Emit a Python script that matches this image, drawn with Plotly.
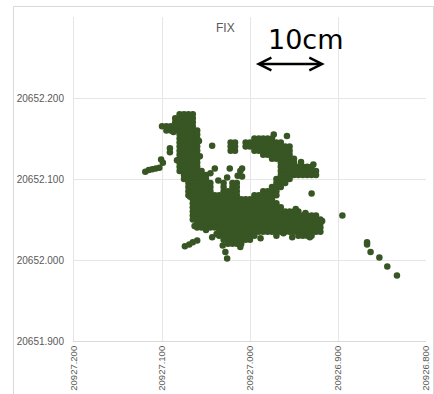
import plotly.graph_objects as go

# Easting / northing of FIX solutions (metres), stored row by row of the cloud
ROW_Y = [
    20652.180, 20652.175, 20652.170, 20652.165, 20652.160, 20652.155,
    20652.150, 20652.145, 20652.140, 20652.135, 20652.130, 20652.125,
    20652.120, 20652.115, 20652.110, 20652.105, 20652.100, 20652.095,
    20652.090, 20652.085, 20652.080, 20652.075, 20652.070, 20652.065,
    20652.060, 20652.055, 20652.050, 20652.045, 20652.040, 20652.035,
    20652.030, 20652.025, 20652.020,
]

ROW_X = [
    [20927.080, 20927.075, 20927.070, 20927.065],
    [20927.085, 20927.080, 20927.075, 20927.070, 20927.065],
    [20927.085, 20927.080, 20927.075, 20927.070, 20927.065],
    [20927.100, 20927.095, 20927.090, 20927.085, 20927.080, 20927.075, 20927.070, 20927.065],
    [20927.095, 20927.090, 20927.085, 20927.080, 20927.075, 20927.070, 20927.065, 20927.060],
    [20927.080, 20927.075, 20927.070, 20927.065, 20927.060],
    [20927.080, 20927.075, 20927.070, 20927.065, 20927.060,
     20926.995, 20926.990, 20926.985, 20926.980, 20926.975],
    [20927.080, 20927.075, 20927.070, 20927.065, 20927.060, 20927.022, 20927.017,
     20927.005, 20927.000, 20926.995, 20926.990, 20926.985, 20926.980, 20926.975,
     20926.970, 20926.965],
    [20927.080, 20927.075, 20927.070, 20927.065, 20927.060, 20927.022, 20927.017,
     20927.005, 20927.000, 20926.995, 20926.990, 20926.985, 20926.980, 20926.975,
     20926.970, 20926.965, 20926.960, 20926.955],
    [20927.080, 20927.075, 20927.070, 20927.065, 20927.060, 20927.022, 20927.017,
     20926.995, 20926.990, 20926.985, 20926.980, 20926.975, 20926.970, 20926.965,
     20926.960, 20926.955],
    [20927.080, 20927.075, 20927.070, 20927.065, 20927.060,
     20926.985, 20926.980, 20926.975, 20926.970, 20926.965, 20926.960, 20926.955],
    [20927.080, 20927.075, 20927.070, 20927.065, 20927.060,
     20926.975, 20926.970, 20926.965, 20926.960, 20926.955, 20926.950],
    [20927.080, 20927.075, 20927.070, 20927.065, 20927.060,
     20926.965, 20926.960, 20926.955, 20926.950],
    [20927.080, 20927.075, 20927.070, 20927.065, 20927.060,
     20926.965, 20926.960, 20926.955, 20926.950, 20926.945, 20926.940, 20926.935,
     20926.930],
    [20927.080, 20927.075, 20927.070, 20927.065, 20927.060, 20927.055,
     20926.965, 20926.960, 20926.955, 20926.950, 20926.945, 20926.940, 20926.935,
     20926.930, 20926.925],
    [20927.075, 20927.070, 20927.065, 20927.060, 20927.055, 20927.050,
     20926.965, 20926.960, 20926.955, 20926.950, 20926.945, 20926.940, 20926.935,
     20926.930, 20926.925],
    [20927.075, 20927.070, 20927.065, 20927.060, 20927.055, 20927.050,
     20926.970, 20926.965, 20926.960, 20926.955],
    [20927.070, 20927.065, 20927.060, 20927.055, 20927.050, 20927.045,
     20927.030, 20927.020, 20927.015, 20926.970, 20926.965, 20926.960],
    [20927.070, 20927.065, 20927.060, 20927.055, 20927.050, 20927.045,
     20927.030, 20927.020, 20927.015, 20926.975, 20926.970, 20926.965],
    [20927.070, 20927.065, 20927.060, 20927.055, 20927.050, 20927.045,
     20927.030, 20927.025, 20927.020, 20927.015,
     20926.985, 20926.980, 20926.975, 20926.970],
    [20927.070, 20927.065, 20927.060, 20927.055, 20927.050, 20927.045, 20927.040,
     20927.035, 20927.030, 20927.025, 20927.020, 20927.015,
     20926.995, 20926.990, 20926.985, 20926.980, 20926.975, 20926.970],
    [20927.065, 20927.060, 20927.055, 20927.050, 20927.045, 20927.040, 20927.035,
     20927.030, 20927.025, 20927.020, 20927.015, 20927.010, 20927.005, 20927.000,
     20926.995, 20926.990, 20926.985, 20926.980, 20926.975],
    [20927.065, 20927.060, 20927.055, 20927.050, 20927.045, 20927.040, 20927.035,
     20927.030, 20927.025, 20927.020, 20927.015, 20927.010, 20927.005, 20927.000,
     20926.995, 20926.990, 20926.985, 20926.980, 20926.975, 20926.970],
    [20927.065, 20927.060, 20927.055, 20927.050, 20927.045, 20927.040, 20927.035,
     20927.030, 20927.025, 20927.020, 20927.015, 20927.010, 20927.005, 20927.000,
     20926.995, 20926.990, 20926.985, 20926.980, 20926.975, 20926.970, 20926.965],
    [20927.065, 20927.060, 20927.055, 20927.050, 20927.045, 20927.040, 20927.035,
     20927.030, 20927.025, 20927.020, 20927.015, 20927.010, 20927.005, 20927.000,
     20926.995, 20926.990, 20926.985, 20926.980, 20926.975, 20926.970, 20926.965,
     20926.960, 20926.955, 20926.950, 20926.945],
    [20927.065, 20927.060, 20927.055, 20927.050, 20927.045, 20927.040, 20927.035,
     20927.030, 20927.025, 20927.020, 20927.015, 20927.010, 20927.005, 20927.000,
     20926.995, 20926.990, 20926.985, 20926.980, 20926.975, 20926.970, 20926.965,
     20926.960, 20926.955, 20926.950, 20926.945, 20926.940, 20926.935, 20926.930,
     20926.925],
    [20927.065, 20927.060, 20927.055, 20927.050, 20927.045, 20927.040, 20927.035,
     20927.030, 20927.025, 20927.020, 20927.015, 20927.010, 20927.005, 20927.000,
     20926.995, 20926.990, 20926.985, 20926.980, 20926.975, 20926.970, 20926.965,
     20926.960, 20926.955, 20926.950, 20926.945, 20926.940, 20926.935, 20926.930,
     20926.925, 20926.920],
    [20927.060, 20927.055, 20927.050, 20927.045, 20927.040, 20927.035,
     20927.030, 20927.025, 20927.020, 20927.015, 20927.010, 20927.005, 20927.000,
     20926.995, 20926.990, 20926.985, 20926.980, 20926.975, 20926.970, 20926.965,
     20926.960, 20926.955, 20926.950, 20926.945, 20926.940, 20926.935, 20926.930,
     20926.925, 20926.920],
    [20927.060, 20927.055, 20927.050, 20927.045, 20927.040, 20927.035,
     20927.030, 20927.025, 20927.020, 20927.015, 20927.010, 20927.005, 20927.000,
     20926.995, 20926.990, 20926.985, 20926.980, 20926.975, 20926.970, 20926.965,
     20926.960, 20926.955, 20926.950, 20926.945, 20926.940, 20926.935, 20926.930,
     20926.925, 20926.920],
    [20927.035, 20927.030, 20927.025, 20927.020, 20927.015, 20927.010, 20927.005,
     20927.000, 20926.995, 20926.990, 20926.985, 20926.980, 20926.975, 20926.970,
     20926.965, 20926.960, 20926.955, 20926.950, 20926.945, 20926.940, 20926.935,
     20926.930, 20926.925, 20926.920],
    [20927.035, 20927.030, 20927.025, 20927.020, 20927.015, 20927.010, 20927.005,
     20927.000, 20926.995, 20926.970, 20926.945, 20926.940, 20926.935, 20926.930],
    [20927.030, 20927.025, 20927.020, 20927.015, 20927.010, 20927.005, 20927.000],
    [20927.025, 20927.020, 20927.015, 20927.010],
]

# Scattered single fixes, plus fixes along the ragged rim of the cloud
LONE_X = [
    20927.119, 20927.115, 20927.111, 20927.107, 20927.103, 20927.101, 20927.099,
    20927.091, 20927.091, 20927.043, 20927.045, 20927.040, 20927.036, 20927.026,
    20927.023, 20927.014, 20927.009, 20926.973, 20927.011, 20927.009,
    20927.074, 20927.069, 20927.065, 20927.060, 20927.050, 20927.043, 20927.031,
    20927.028, 20927.026, 20927.011,
    20926.930, 20926.895, 20926.867, 20926.867, 20926.863, 20926.853, 20926.844,
    20926.833,
    20927.087, 20927.058, 20927.057, 20927.083, 20927.052, 20927.047, 20926.958,
    20926.942, 20926.928, 20926.937, 20926.948, 20927.068, 20927.063, 20927.038,
    20927.012, 20926.988, 20926.962, 20926.952, 20926.932, 20926.918,
]
LONE_Y = [
    20652.109, 20652.111, 20652.112, 20652.113, 20652.114, 20652.124, 20652.120,
    20652.138, 20652.133, 20652.141, 20652.107, 20652.113, 20652.098, 20652.102,
    20652.113, 20652.104, 20652.113, 20652.155, 20652.110, 20652.103,
    20652.017, 20652.019, 20652.022, 20652.024, 20652.037, 20652.028, 20652.018,
    20652.010, 20652.002, 20652.016,
    20652.082, 20652.055, 20652.022, 20652.019, 20652.010, 20652.003, 20651.992,
    20651.981,
    20652.158, 20652.147, 20652.128, 20652.123, 20652.098, 20652.088, 20652.153,
    20652.121, 20652.118, 20652.058, 20652.063, 20652.078, 20652.042, 20652.032,
    20652.022, 20652.027, 20652.033, 20652.028, 20652.028, 20652.048,
]

X_TICKS = [20927.2, 20927.1, 20927.0, 20926.9, 20926.8]
X_LABELS = ["20927.200", "20927.100", "20927.000", "20926.900", "20926.800"]
Y_TICKS = [20651.9, 20652.0, 20652.1, 20652.2]
Y_LABELS = ["20651.900", "20652.000", "20652.100", "20652.200"]

# 10 cm scale bar ends (easting) and its northing
BAR_X0, BAR_X1, BAR_Y = 20926.995, 20926.915, 20652.242

xs, ys = [], []
for yv, row in zip(ROW_Y, ROW_X):
    xs.extend(row)
    ys.extend([yv] * len(row))
xs.extend(LONE_X)
ys.extend(LONE_Y)

fig = go.Figure()
fig.add_trace(go.Scatter(
    x=xs, y=ys, mode="markers",
    marker=dict(color="#375623", size=6.5, line=dict(width=0)),
    hoverinfo="skip", showlegend=False,
))

axis_font = dict(family="Liberation Sans, Arial, sans-serif", size=9.5, color="#595959")

fig.update_layout(
    width=434, height=394,
    margin=dict(l=74, r=8, t=17, b=53, autoexpand=False),
    paper_bgcolor="white", plot_bgcolor="white",
    xaxis=dict(
        range=[20927.2, 20926.8], tickvals=X_TICKS, ticktext=X_LABELS,
        tickangle=-90, tickfont=axis_font, showgrid=True, gridcolor="#e6e6e6",
        gridwidth=1, zeroline=False, showline=True, linecolor="#d9d9d9",
        ticks="", ticklabelstandoff=0,
    ),
    yaxis=dict(
        range=[20651.9, 20652.3], tickvals=Y_TICKS, ticktext=Y_LABELS,
        tickfont=dict(axis_font, size=10), showgrid=True, gridcolor="#e6e6e6",
        gridwidth=1, zeroline=False, showline=True, linecolor="#e6e6e6",
        ticks="", ticklabelstandoff=7,
    ),
    shapes=[dict(
        type="rect", xref="paper", yref="paper",
        x0=(13.5 - 74) / 352, x1=(433.5 - 74) / 352,
        y0=(341 - 400) / 324, y1=(341 - 6.5) / 324,
        line=dict(color="#d9d9d9", width=1), fillcolor="rgba(0,0,0,0)",
        layer="below",
    )],
    annotations=[
        dict(text="FIX", xref="paper", yref="paper",
             x=(225 - 74) / 352, y=(341 - 28) / 324,
             xanchor="center", yanchor="middle", showarrow=False,
             font=dict(family="Liberation Sans, Arial, sans-serif", size=12, color="#595959")),
        dict(text="10cm", xref="paper", yref="paper",
             x=(306 - 74) / 352, y=(341 - 40) / 324,
             xanchor="center", yanchor="middle", showarrow=False,
             font=dict(family="DejaVu Sans, sans-serif", size=27, color="black")),
        dict(text="", x=BAR_X1, y=BAR_Y, ax=BAR_X0, ay=BAR_Y,
             xref="x", yref="y", axref="x", ayref="y",
             showarrow=True, arrowside="end+start", arrowhead=5,
             arrowsize=1, arrowwidth=2.5, arrowcolor="black"),
    ],
)

fig.write_html("out.html")
